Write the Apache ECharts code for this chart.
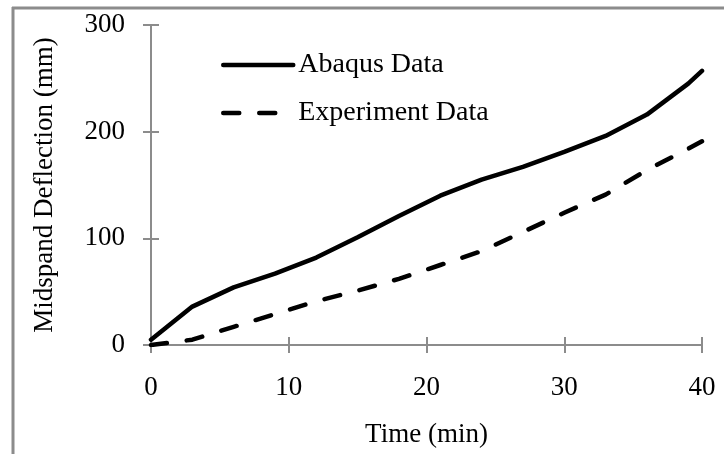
<!DOCTYPE html>
<html>
<head>
<meta charset="utf-8">
<script src="https://cdn.jsdelivr.net/npm/echarts@6/dist/echarts.min.js"></script>
<style>
  html, body { margin: 0; padding: 0; background: #fff; }
  #chart { width: 724px; height: 454px; }
</style>
</head>
<body>
<div id="chart"></div>
<script>
// time (min)
const abaqusTime = [0, 3, 6, 9, 12, 15, 18, 21, 24, 27, 30, 33, 36, 39, 40]
const abaqusDefl = [5, 36, 54, 67, 82, 101, 121, 140, 155, 167, 181, 196, 216, 245, 257]
const expTime = [0, 3, 6, 9, 12, 15, 18, 21, 24, 27, 30, 33, 36, 39, 40]
const expDefl = [0, 5, 17, 29, 41, 51, 62, 75, 88, 106, 124, 141, 164, 184, 191]

const font = 'Liberation Serif, Times New Roman, serif'
const axisGray = '#8c8c8c'

const chart = echarts.init(document.getElementById('chart'))

const pairs = (xs, ys) => xs.map((x, i) => [x, ys[i]])

chart.setOption({
  animation: false,
  grid: { left: 151, right: 22, top: 25, bottom: 109 },
  graphic: [
    { type: 'line', shape: { x1: 13, y1: 7, x2: 13, y2: 460 }, style: { stroke: axisGray, lineWidth: 3 } },
    { type: 'line', shape: { x1: 12, y1: 8, x2: 730, y2: 8 }, style: { stroke: axisGray, lineWidth: 3 } }
  ],
  legend: {
    orient: 'vertical',
    left: 216,
    top: 46,
    itemWidth: 70,
    itemHeight: 20,
    itemGap: 20,
    itemStyle: { opacity: 0 },
    lineStyle: { width: 4.5, cap: 'round' },
    textStyle: { fontFamily: font, fontSize: 28, color: '#000' },
    data: ['Abaqus Data', 'Experiment Data']
  },
  xAxis: [
    {
      type: 'value', min: 0, max: 40, interval: 10,
      name: 'Time (min)', nameLocation: 'middle', nameGap: 76,
      nameTextStyle: { fontFamily: font, fontSize: 27, color: '#000' },
      axisLine: { show: true, lineStyle: { color: axisGray, width: 2 } },
      axisTick: { show: true, length: 8, lineStyle: { color: axisGray, width: 2 } },
      axisLabel: { fontFamily: font, fontSize: 27, color: '#000', margin: 29 },
      splitLine: { show: false }
    },
    {
      type: 'value', min: 0, max: 40, interval: 10, position: 'bottom',
      axisLine: { show: false },
      axisTick: { show: true, inside: true, length: 8, lineStyle: { color: axisGray, width: 2 } },
      axisLabel: { show: false },
      splitLine: { show: false }
    }
  ],
  yAxis: [
    {
      type: 'value', min: 0, max: 300, interval: 100,
      name: 'Midspand Deflection (mm)', nameLocation: 'middle', nameGap: 93,
      nameTextStyle: { fontFamily: font, fontSize: 27, color: '#000' },
      axisLine: { show: true, lineStyle: { color: axisGray, width: 2 } },
      axisTick: { show: true, length: 8, lineStyle: { color: axisGray, width: 2 } },
      axisLabel: { fontFamily: font, fontSize: 27, color: '#000', margin: 26 },
      splitLine: { show: false }
    },
    {
      type: 'value', min: 0, max: 300, interval: 100, position: 'left',
      axisLine: { show: false },
      axisTick: { show: true, inside: true, length: 8, lineStyle: { color: axisGray, width: 2 } },
      axisLabel: { show: false },
      splitLine: { show: false }
    }
  ],
  series: [
    {
      name: 'Abaqus Data', type: 'line', symbol: 'none',
      data: pairs(abaqusTime, abaqusDefl),
      lineStyle: { color: '#000', width: 4.5, cap: 'round' },
      itemStyle: { color: '#000' }
    },
    {
      name: 'Experiment Data', type: 'line', symbol: 'none',
      data: pairs(expTime, expDefl),
      lineStyle: { color: '#000', width: 4.5, type: [16, 20], cap: 'round' },
      itemStyle: { color: '#000' }
    }
  ]
})
</script>
</body>
</html>
